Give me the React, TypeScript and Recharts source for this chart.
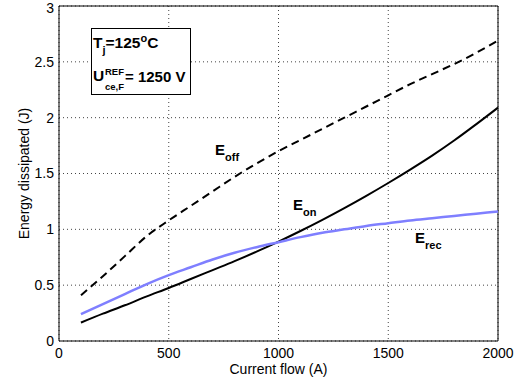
import React from 'react';
import { CartesianGrid, Line, LineChart, ReferenceLine, XAxis, YAxis } from 'recharts';

const FONT = '"Liberation Sans", Arial, Helvetica, sans-serif';

// values
const currents = [100, 200, 300, 400, 500, 600, 700, 800, 900, 1000, 1100, 1200, 1300, 1400, 1500, 1600, 1700, 1800, 1900, 2000];
const eOff = [0.41, 0.58, 0.76, 0.94, 1.08, 1.21, 1.34, 1.47, 1.59, 1.7, 1.8, 1.9, 2.0, 2.1, 2.2, 2.3, 2.39, 2.48, 2.58, 2.69];
const eOn = [0.165, 0.245, 0.32, 0.4, 0.475, 0.555, 0.635, 0.715, 0.8, 0.89, 0.985, 1.085, 1.19, 1.3, 1.415, 1.535, 1.66, 1.795, 1.94, 2.09];
const eRec = [0.24, 0.33, 0.42, 0.51, 0.59, 0.66, 0.73, 0.79, 0.84, 0.885, 0.93, 0.97, 1.0, 1.03, 1.055, 1.08, 1.1, 1.12, 1.14, 1.16];

const xTicks = [0, 500, 1000, 1500, 2000];
const yTicks = [0, 0.5, 1, 1.5, 2, 2.5, 3];

const rows = currents.map((current, i) => ({
  current,
  eoff: eOff[i],
  eon: eOn[i],
  erec: eRec[i]
}));

// text placed by baseline (line-height 1 => baseline ~0.85em below top)
function Txt({ x, base, size, children }: { x: number; base: number; size: number; children: React.ReactNode }) {
  return (
    <div
      style={{
        position: 'absolute',
        left: x,
        top: base - 0.85 * size,
        fontSize: size,
        lineHeight: 1,
        fontWeight: 'bold',
        fontFamily: FONT,
        whiteSpace: 'nowrap',
        color: '#000'
      }}
    >
      {children}
    </div>
  );
}

function CurveLabel({ x, base, sub }: { x: number; base: number; sub: string }) {
  return (
    <Txt x={x} base={base} size={15}>
      E<span style={{ fontSize: 11, position: 'relative', top: 6 }}>{sub}</span>
    </Txt>
  );
}

export default function App() {
  const tickStyle = { fill: '#000', fontSize: 14, fontFamily: FONT };

  return (
    <div style={{ position: 'absolute', left: 0, top: 0, width: 529, height: 387, background: '#fff' }}>
      <LineChart width={529} height={387} data={rows} margin={{ top: 6, right: 31, left: 0, bottom: 0 }}>
        <CartesianGrid stroke="#444" strokeDasharray="1 3" />
        <XAxis
          dataKey="current"
          type="number"
          domain={[0, 2000]}
          ticks={xTicks}
          height={46}
          tickLine={false}
          tickSize={6}
          tickMargin={1}
          stroke="#000"
          tick={tickStyle}
          label={{ value: 'Current flow (A)', position: 'insideBottom', offset: 13, fill: '#000', fontSize: 14, fontFamily: FONT }}
        />
        <YAxis
          type="number"
          domain={[0, 3]}
          ticks={yTicks}
          width={59}
          tickLine={false}
          tickSize={4}
          tickMargin={1}
          stroke="#000"
          tick={tickStyle}
          label={{
            value: 'Energy dissipated (J)',
            angle: -90,
            position: 'insideLeft',
            offset: 24,
            fill: '#000',
            fontSize: 14,
            fontFamily: FONT,
            style: { textAnchor: 'middle' }
          }}
        />
        <ReferenceLine y={3} stroke="#000" />
        <ReferenceLine x={2000} stroke="#000" />
        <Line type="monotone" dataKey="eoff" stroke="#000" strokeWidth={2} strokeDasharray="8 5" dot={false} isAnimationActive={false} />
        <Line type="monotone" dataKey="eon" stroke="#000" strokeWidth={2} dot={false} isAnimationActive={false} />
        <Line type="monotone" dataKey="erec" stroke="#7f7fff" strokeWidth={2.5} dot={false} isAnimationActive={false} />
      </LineChart>

      {/* annotation box */}
      <div style={{ position: 'absolute', left: 91, top: 28, width: 98, height: 65, border: '1px solid #000', background: '#fff' }} />
      <Txt x={93} base={48.5} size={15.5}>
        T<span style={{ fontSize: 11, position: 'relative', top: 6 }}>j</span>=125
        <span style={{ fontSize: 11, position: 'relative', top: -6 }}>o</span>C
      </Txt>
      <Txt x={93} base={81.5} size={15.5}>U</Txt>
      <Txt x={105} base={75} size={9.5}>REF</Txt>
      <Txt x={105} base={90.5} size={9.5}>ce,F</Txt>
      <Txt x={125} base={81.5} size={15}>= 1250 V</Txt>

      <CurveLabel x={215} base={155} sub="off" />
      <CurveLabel x={293} base={210} sub="on" />
      <CurveLabel x={415} base={243} sub="rec" />
    </div>
  );
}
